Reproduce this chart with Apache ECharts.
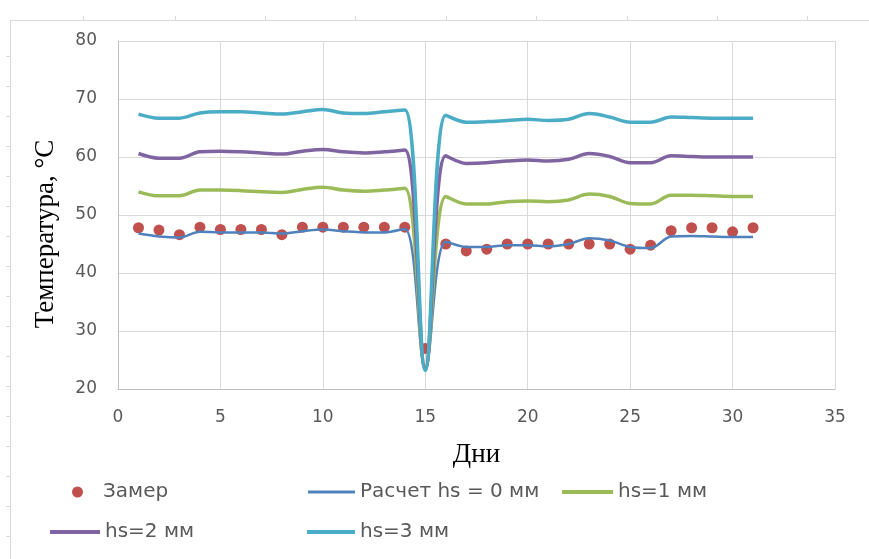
<!DOCTYPE html>
<html>
<head>
<meta charset="utf-8">
<script src="https://cdn.jsdelivr.net/npm/echarts@6/dist/echarts.min.js"></script>
<style>
html,body{margin:0;padding:0;background:#fff;}
#chart{width:869px;height:559px;}
</style>
</head>
<body>
<div id="chart"></div>
<script>
const days = [1,2,3,4,5,6,7,8,9,10,11,12,13,14,15,16,17,18,19,20,21,22,23,24,25,26,27,28,29,30,31];
const zamer = [47.8,47.4,46.6,47.9,47.5,47.5,47.5,46.6,47.9,47.9,47.9,47.9,47.9,47.9,27.0,45.0,43.8,44.1,45.0,45.0,45.0,45.0,45.0,45.0,44.1,44.8,47.3,47.8,47.8,47.1,47.8];
const hs0 = [46.8,46.3,46.1,47.1,47.0,47.0,47.0,46.8,47.2,47.5,47.2,47.0,47.0,47.6,23.8,45.4,44.5,44.5,44.8,44.8,44.6,45.0,46.0,45.6,44.5,44.3,46.3,46.4,46.3,46.2,46.2];
const hs1 = [54.0,53.3,53.3,54.3,54.3,54.2,54.0,53.9,54.4,54.8,54.3,54.1,54.3,54.6,23.6,53.2,51.9,51.9,52.3,52.4,52.3,52.6,53.6,53.2,52.0,51.9,53.4,53.4,53.3,53.2,53.2];
const hs2 = [60.6,59.8,59.8,60.9,61.0,60.9,60.7,60.5,61.0,61.3,60.9,60.7,60.9,61.2,23.4,60.2,58.9,59.0,59.3,59.5,59.3,59.6,60.6,60.1,59.0,59.0,60.2,60.1,60.0,60.0,60.0];
const hs3 = [67.4,66.7,66.7,67.6,67.8,67.8,67.6,67.4,67.8,68.2,67.6,67.5,67.8,68.1,23.2,67.2,66.0,66.1,66.3,66.5,66.3,66.5,67.5,66.9,66.0,66.0,66.9,66.8,66.7,66.7,66.7];
const names = ['Замер','Расчет hs = 0 мм','hs=1 мм','hs=2 мм','hs=3 мм'];
const colors = ['#C0504D','#4F81BD','#9BBB59','#8064A2','#4BACC6'];
const xTitle = 'Дни';
const yTitle = 'Температура, °С';

function pairs(ys){ return days.map((d,i)=>[d, ys[i]]); }

const chart = echarts.init(document.getElementById('chart'), null, {renderer:'canvas'});
const legendText = {fontFamily:'DejaVu Sans', fontSize:20, color:'#595959'};
function lg(name, left, top, w, h, extra){
  return Object.assign({data:[name], left:left, top:top, itemWidth:w, itemHeight:h, padding:0,
    textStyle:Object.assign({}, legendText), selectedMode:false}, extra||{});
}
const graphics = [
  {type:'line', shape:{x1:10,y1:20.5,x2:869,y2:20.5}, style:{stroke:'#d9d9d9',lineWidth:1}, silent:true},
  {type:'line', shape:{x1:10.5,y1:20,x2:10.5,y2:559}, style:{stroke:'#d9d9d9',lineWidth:1}, silent:true},
  {type:'text', x:46, y:234, rotation:Math.PI/2, silent:true,
    style:{text:yTitle, fontFamily:'Liberation Serif', fontSize:27, fill:'#000', align:'center', verticalAlign:'middle'}}
];
[83,175,265,355,446,536,627,717,807].forEach(x=>graphics.push({type:'line', shape:{x1:x+0.5,y1:16,x2:x+0.5,y2:20}, style:{stroke:'#d9d9d9',lineWidth:1}, silent:true}));
for(let y=56;y<559;y+=30){ graphics.push({type:'line', shape:{x1:6,y1:y+0.5,x2:10,y2:y+0.5}, style:{stroke:'#d9d9d9',lineWidth:1}, silent:true}); }

const lineSeries = (name, data, color, width) => ({
  name:name, type:'line', data:pairs(data), smooth:0.35, symbol:'none',
  lineStyle:{color:color, width:width}, itemStyle:{color:color}, z:3
});

chart.setOption({
  animation:false,
  backgroundColor:'#ffffff',
  graphic: graphics,
  grid:{left:118, right:34, top:41, bottom:170, containLabel:false},
  xAxis:{type:'value', min:0, max:35, interval:5,
    name:xTitle, nameLocation:'middle', nameGap:52,
    nameTextStyle:{fontFamily:'Liberation Serif', fontSize:27, color:'#000'},
    axisLine:{show:true, lineStyle:{color:'#bfbfbf'}}, axisTick:{show:false},
    axisLabel:{margin:20, fontFamily:'DejaVu Sans', fontSize:17, color:'#595959'},
    splitLine:{show:true, lineStyle:{color:'#d9d9d9'}}},
  yAxis:{type:'value', min:20, max:80, interval:10,
    axisLine:{show:true, lineStyle:{color:'#bfbfbf'}}, axisTick:{show:false},
    axisLabel:{margin:21, fontFamily:'DejaVu Sans', fontSize:17, color:'#595959'},
    splitLine:{show:true, lineStyle:{color:'#d9d9d9'}}},
  legend:[
    lg(names[0], 72, 482, 11, 11, {icon:'circle', textStyle:Object.assign({}, legendText, {padding:[0,0,0,15]})}),
    lg(names[1], 308, 482, 47, 3, {icon:'rect'}),
    lg(names[2], 562, 482, 51, 4, {icon:'rect'}),
    lg(names[3], 50, 522, 50, 4, {icon:'rect'}),
    lg(names[4], 307, 522, 48, 4, {icon:'rect'})
  ],
  series:[
    {name:names[0], type:'scatter', data:pairs(zamer), symbol:'circle', symbolSize:11,
      itemStyle:{color:colors[0], opacity:1}, z:2},
    lineSeries(names[1], hs0, colors[1], 2.5),
    lineSeries(names[2], hs1, colors[2], 3.5),
    lineSeries(names[3], hs2, colors[3], 3.5),
    lineSeries(names[4], hs3, colors[4], 3.5)
  ]
});
</script>
</body>
</html>
